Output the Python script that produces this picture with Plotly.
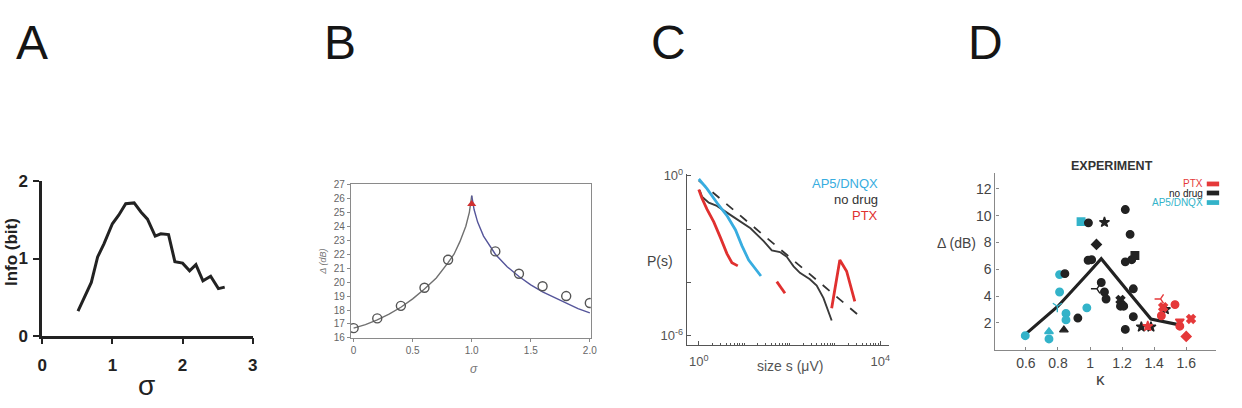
import numpy as np
import plotly.graph_objects as go

W, H = 1242, 408
FONT = "Liberation Sans, Arial, sans-serif"

# ---------------- Panel A data ----------------
a_sigma = [0.51, 0.70, 0.79, 0.88, 1.00, 1.09, 1.19, 1.31, 1.41, 1.50, 1.61, 1.69,
           1.80, 1.89, 2.00, 2.10, 2.19, 2.29, 2.40, 2.51, 2.60]
a_info = [0.32, 0.69, 1.02, 1.19, 1.45, 1.56, 1.71, 1.72, 1.60, 1.51, 1.29, 1.32,
          1.31, 0.96, 0.94, 0.84, 0.92, 0.71, 0.77, 0.61, 0.63]
a_xticks = [0, 1, 2, 3]
a_yticks = [0, 1, 2]

# ---------------- Panel B data ----------------
b_sigma_pts = [0.0, 0.2, 0.4, 0.6, 0.8, 1.2, 1.4, 1.6, 1.8, 2.0]
b_delta_pts = [16.7, 17.4, 18.3, 19.6, 21.6, 22.2, 20.6, 19.7, 19.0, 18.5]
b_peak_sigma = [1.0]
b_peak_delta = [25.6]
b_left_sigma = [0.0, 0.1, 0.2, 0.3, 0.4, 0.5, 0.6, 0.7, 0.8, 0.85, 0.9, 0.95, 0.98, 1.0]
b_left_delta = [16.7, 16.95, 17.3, 17.7, 18.2, 18.8, 19.5, 20.3, 21.4, 22.0, 22.9, 24.0, 25.0, 26.2]
b_right_sigma = [1.0, 1.02, 1.05, 1.1, 1.2, 1.3, 1.4, 1.5, 1.6, 1.7, 1.8, 1.9, 2.0]
b_right_delta = [26.2, 25.2, 24.3, 23.3, 22.0, 21.1, 20.4, 19.8, 19.3, 18.9, 18.5, 18.1, 17.8]
b_yticks = list(range(16, 28))
b_xticks = [0, 0.5, 1.0, 1.5, 2.0]
b_xticktext = ["0", "0.5", "1.0", "1.5", "2.0"]

# ---------------- Panel C data (log10 values) ----------------
c_dash_logs = [0.0, 3.59]
c_dash_logp = [-0.18, -5.33]
c_ap5_logs = [0.0, 0.18, 0.40, 0.62, 0.81, 0.95, 1.10, 1.25, 1.37]
c_ap5_logp = [-0.12, -0.48, -1.01, -1.49, -2.03, -2.62, -3.16, -3.52, -3.76]
c_nod_logs = [0.02, 0.07, 0.22, 0.40, 0.77, 1.14, 1.43, 1.61, 1.79, 1.94, 2.09, 2.23,
              2.45, 2.60, 2.75, 2.93]
c_nod_logp = [-0.54, -0.78, -1.01, -1.13, -1.55, -1.97, -2.45, -2.80, -2.86, -3.04,
              -3.40, -3.64, -3.88, -4.12, -4.59, -5.43]
c_ptx1_logs = [0.0, 0.07, 0.18, 0.33, 0.48, 0.62, 0.73, 0.86]
c_ptx1_logp = [-0.51, -0.84, -1.25, -1.73, -2.33, -2.92, -3.26, -3.38]
c_ptx2_logs = [1.72, 1.90]
c_ptx2_logp = [-3.97, -4.41]
c_ptx3_logs = [2.93, 3.11, 3.26, 3.44]
c_ptx3_logp = [-4.97, -3.16, -3.58, -4.71]
c_xtickvals = [1, 10000]
c_xticktext = ["10<sup>0</sup>", "10<sup>4</sup>"]
c_ytickvals = [1, 1e-6]
c_yticktext = ["10<sup>0</sup>", "10<sup>-6</sup>"]
c_yminor = [1e-2, 1e-4]
c_xminor = [m * 10 ** d for d in range(0, 4) for m in range(2, 11)]

# ---------------- Panel D data ----------------
d_line_kappa = [0.60, 0.80, 0.99, 1.07, 1.24, 1.38, 1.55]
d_line_delta = [1.18, 3.24, 5.72, 6.78, 4.30, 2.29, 1.87]

d_ap5_kappa = [0.596, 0.744, 0.744, 0.81, 0.81, 0.796, 0.85, 0.85, 0.944, 0.98]
d_ap5_delta = [1.04, 1.35, 0.80, 5.60, 4.30, 3.24, 2.70, 2.22, 9.55, 3.12]
d_ap5_sym = ["circle", "triangle-up", "circle", "circle", "circle", "y-down",
             "circle", "circle", "square", "circle"]

d_nod_kappa = [0.843, 0.837, 0.924, 0.99, 0.988, 1.01, 1.04, 1.043, 1.07, 1.09, 1.09,
               1.10, 1.22, 1.25, 1.22, 1.26, 1.28, 1.19, 1.19, 1.21, 1.22, 1.27, 1.27,
               1.32, 1.38, 1.47]
d_nod_delta = [5.67, 1.47, 2.36, 9.46, 6.67, 6.71, 7.85, 4.54, 5.01, 9.50, 4.30, 3.78,
               10.45, 8.60, 6.55, 6.71, 7.02, 3.71, 3.24, 3.24, 1.51, 4.54, 2.46,
               1.70, 1.70, 3.00]
d_nod_sym = ["circle", "triangle-up", "circle", "circle", "circle", "circle", "diamond",
             "y-left", "circle", "star", "circle", "circle", "circle", "circle", "circle",
             "circle", "square", "x", "circle", "circle", "circle", "circle", "circle",
             "star", "star", "star"]

d_ptx_kappa = [1.36, 1.44, 1.456, 1.445, 1.53, 1.56, 1.56, 1.63, 1.60]
d_ptx_delta = [1.75, 3.78, 3.17, 2.53, 3.36, 1.75, 2.13, 2.29, 0.99]
d_ptx_sym = ["star", "y-left", "x", "circle", "circle", "circle", "triangle-down",
             "x", "diamond"]
d_xticks = [0.6, 0.8, 1.0, 1.2, 1.4, 1.6]
d_xticktext = ["0.6", "0.8", "1", "1.2", "1.4", "1.6"]
d_yticks = [2, 4, 6, 8, 10, 12]

BLACK = "#222222"
C_BLUE = "#38ade0"
C_RED = "#e0302f"
D_CYAN = "#33b3c9"
D_RED = "#e5393a"


def fx(p):
    return p / W


def fy(p):
    return 1 - p / H


fig = go.Figure()

# ---------- Panel A ----------
fig.add_trace(go.Scatter(x=a_sigma, y=a_info, mode="lines",
                         line=dict(color=BLACK, width=3), xaxis="x", yaxis="y",
                         showlegend=False))

# ---------- Panel B ----------
fig.add_trace(go.Scatter(x=b_left_sigma, y=b_left_delta, mode="lines",
                         line=dict(color="#707070", width=1.4), xaxis="x2", yaxis="y2",
                         showlegend=False))
fig.add_trace(go.Scatter(x=b_right_sigma, y=b_right_delta, mode="lines",
                         line=dict(color="#55559a", width=1.4), xaxis="x2", yaxis="y2",
                         showlegend=False))
fig.add_trace(go.Scatter(x=b_sigma_pts, y=b_delta_pts, mode="markers",
                         marker=dict(symbol="circle-open", size=9,
                                     line=dict(color="#555555", width=1.4),
                                     color="#555555"),
                         xaxis="x2", yaxis="y2", showlegend=False))
fig.add_trace(go.Scatter(x=b_peak_sigma, y=b_peak_delta, mode="markers",
                         marker=dict(symbol="triangle-up", size=8, color="#d03030"),
                         xaxis="x2", yaxis="y2", showlegend=False))

# ---------- Panel C ----------
def pw(v):
    return np.power(10.0, np.array(v))


fig.add_trace(go.Scatter(x=pw(c_dash_logs), y=pw(c_dash_logp), mode="lines",
                         line=dict(color="#333333", width=1.8, dash="dash"),
                         xaxis="x3", yaxis="y3", showlegend=False))
fig.add_trace(go.Scatter(x=pw(c_nod_logs), y=pw(c_nod_logp), mode="lines",
                         line=dict(color="#3a3a3a", width=1.9),
                         xaxis="x3", yaxis="y3", showlegend=False))
fig.add_trace(go.Scatter(x=pw(c_ap5_logs), y=pw(c_ap5_logp), mode="lines",
                         line=dict(color=C_BLUE, width=2.8),
                         xaxis="x3", yaxis="y3", showlegend=False))
for xs, ys in [(c_ptx1_logs, c_ptx1_logp), (c_ptx2_logs, c_ptx2_logp),
               (c_ptx3_logs, c_ptx3_logp)]:
    fig.add_trace(go.Scatter(x=pw(xs), y=pw(ys), mode="lines",
                             line=dict(color=C_RED, width=2.8),
                             xaxis="x3", yaxis="y3", showlegend=False))

# ---------- Panel D ----------
fig.add_trace(go.Scatter(x=d_line_kappa, y=d_line_delta, mode="lines",
                         line=dict(color=BLACK, width=3.2),
                         xaxis="x4", yaxis="y4", showlegend=False))
for ks, ds, syms, col in [(d_ap5_kappa, d_ap5_delta, d_ap5_sym, D_CYAN),
                          (d_nod_kappa, d_nod_delta, d_nod_sym, BLACK),
                          (d_ptx_kappa, d_ptx_delta, d_ptx_sym, D_RED)]:
    fig.add_trace(go.Scatter(x=ks, y=ds, mode="markers",
                             marker=dict(symbol=syms, size=7.5, color=col,
                                         line=dict(color=col, width=1.4)),
                             xaxis="x4", yaxis="y4", showlegend=False))

# ---------- Axes ----------
axA = dict(showline=True, linecolor=BLACK, linewidth=2.5, ticks="outside",
           ticklen=6, tickwidth=2, tickcolor=BLACK, showgrid=False, zeroline=False,
           tickfont=dict(family=FONT, size=17, color="#222", weight="bold"))
axB = dict(showline=True, linecolor="#8a8a8a", linewidth=1.2, mirror=True,
           ticks="outside", ticklen=3, tickcolor="#8a8a8a", showgrid=False,
           zeroline=False, tickfont=dict(family=FONT, size=10, color="#666"))
axC = dict(showline=True, linecolor="#555", linewidth=1.3, ticks="inside",
           ticklen=4, tickcolor="#555", showgrid=False, zeroline=False,
           tickfont=dict(family=FONT, size=13, color="#555"))
axD = dict(showline=True, linecolor="#888", linewidth=1.3, ticks="inside",
           ticklen=3, tickcolor="#888", showgrid=False, zeroline=False,
           tickfont=dict(family=FONT, size=14, color="#444"))

fig.update_layout(
    width=W, height=H, margin=dict(l=0, r=0, t=0, b=0),
    paper_bgcolor="white", plot_bgcolor="white", showlegend=False,
    xaxis=dict(axA, domain=[fx(37.5), fx(250)], range=[0, 3], tickvals=a_xticks,
               anchor="y", ticklabelstandoff=6),
    yaxis=dict(axA, domain=[fy(342.7), fy(180.7)], range=[0, 2], tickvals=a_yticks,
               anchor="x", ticklabelstandoff=2),
    xaxis2=dict(axB, domain=[fx(349), fx(591)], range=[-0.023, 2.008],
                tickvals=b_xticks, ticktext=b_xticktext, anchor="y2"),
    yaxis2=dict(axB, domain=[fy(345), fy(184)], range=[16, 27], tickvals=b_yticks,
                anchor="x2"),
    xaxis3=dict(axC, type="log", domain=[fx(688), fx(891.7)], range=[-0.262, 4.19],
                tickvals=c_xtickvals, ticktext=c_xticktext, anchor="y3",
                ticklabelstandoff=4,
                minor=dict(tickmode="array", tickvals=c_xminor, ticks="inside",
                           ticklen=2, tickcolor="#555", showgrid=False)),
    yaxis3=dict(axC, type="log", domain=[fy(352.7), fy(173.3)], range=[-6.36, 0.06],
                tickvals=c_ytickvals, ticktext=c_yticktext, anchor="x3",
                minor=dict(tickmode="array", tickvals=c_yminor, ticks="inside",
                           ticklen=4, tickcolor="#555", showgrid=False)),
    xaxis4=dict(axD, domain=[fx(999.3), fx(1221.7)], range=[0.41, 1.785],
                tickvals=d_xticks, ticktext=d_xticktext, anchor="y4"),
    yaxis4=dict(axD, domain=[fy(357.3), fy(171.7)], range=[0, 13.2],
                tickvals=d_yticks, anchor="x4"),
)

ann = []


def text(x, y, t, size, color="#222", angle=0, xanchor="center", weight="normal",
         italic=False):
    ann.append(dict(x=fx(x), y=fy(y), xref="paper", yref="paper", text=t,
                    showarrow=False, textangle=angle, xanchor=xanchor,
                    yanchor="middle",
                    font=dict(family=FONT, size=size, color=color, weight=weight,
                              style="italic" if italic else "normal")))


# panel letters
for lx, lt in [(27.5, "A"), (337.5, "B"), (669, "C"), (989, "D")]:
    text(lx, 35, lt, 48, color="#151515")

# A labels
text(6, 255, "Info (bit)", 17, angle=-90, weight="bold")
text(143, 395, "σ", 28)
# B labels
text(320, 265, "Δ (dB)", 9, color="#777", angle=-90, italic=True)
text(473, 378, "σ", 12, color="#777", italic=True)
# C labels
text(883, 183, "AP5/DNQX", 13, color=C_BLUE, xanchor="right")
text(883, 200, "no drug", 13, color="#333", xanchor="right")
text(883, 217, "PTX", 13, color=C_RED, xanchor="right")
text(661, 264, "P(s)", 14, color="#444")
text(792, 374, "size s (μV)", 14, color="#555")
# D labels
text(1117, 165, "EXPERIMENT", 12.5, color="#333", weight="bold")
text(1211, 183.5, "PTX", 10, color=D_RED, xanchor="right")
text(1211, 193, "no drug", 10, color="#222", xanchor="right")
text(1211, 203, "AP5/DNQX", 10, color=D_CYAN, xanchor="right")
text(960, 245, "Δ (dB)", 14, color="#444")
text(1105, 389, "κ", 17, color="#444")

shapes = []
for yy, col in [(183.5, D_RED), (193, "#222"), (203, D_CYAN)]:
    shapes.append(dict(type="rect", xref="paper", yref="paper",
                       x0=fx(1212.5), x1=fx(1225), y0=fy(yy + 2.5), y1=fy(yy - 2.5),
                       fillcolor=col, line=dict(width=0)))

fig.update_layout(annotations=ann, shapes=shapes)
fig.write_html("out.html")
